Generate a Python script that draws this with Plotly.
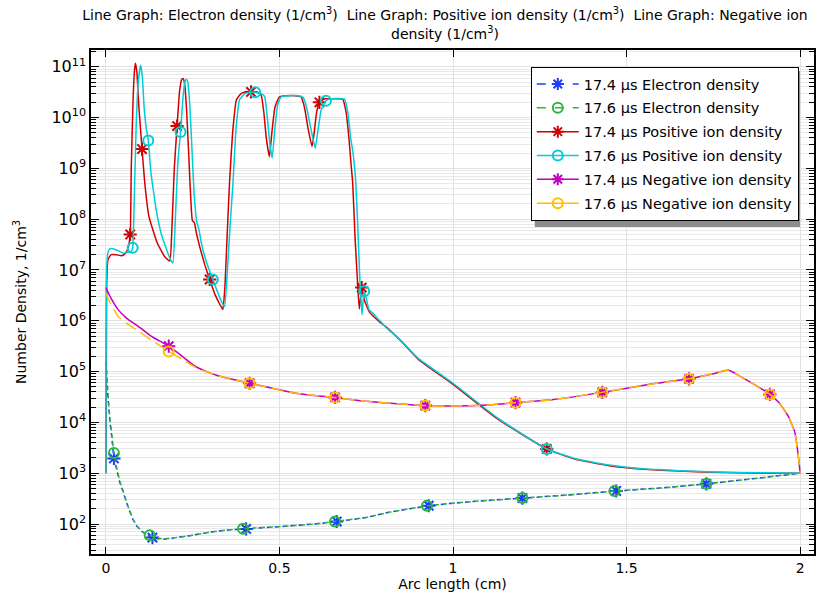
import plotly.graph_objects as go

# ---------------- data ----------------
pos174_x = [0, 0.002, 0.006, 0.015, 0.03, 0.045, 0.055, 0.063, 0.07, 0.073, 0.078, 0.082, 0.085, 0.089, 0.095,
            0.104, 0.112, 0.124, 0.148, 0.17, 0.184, 0.19, 0.197, 0.205, 0.212, 0.218, 0.222, 0.226, 0.232,
            0.238, 0.243, 0.249, 0.255, 0.26, 0.27, 0.285, 0.299, 0.315, 0.33, 0.337, 0.343, 0.35, 0.356,
            0.365, 0.376, 0.39, 0.404, 0.418, 0.435, 0.447, 0.455, 0.462, 0.471, 0.478, 0.487, 0.5, 0.52,
            0.545, 0.562, 0.572, 0.582, 0.594, 0.6, 0.607, 0.615, 0.63, 0.66, 0.682, 0.692, 0.7, 0.706,
            0.711, 0.718, 0.725, 0.73, 0.737, 0.745, 0.76, 0.775, 0.79, 0.807, 0.85, 0.9, 1.0, 1.13, 1.27,
            1.35, 1.45, 1.55, 1.65, 1.75, 1.9, 2.0]
pos174_y = [1.0e3, 5.0e6, 1.6e7, 2.0e7, 2.0e7, 1.9e7, 2.1e7, 2.6e7, 5.0e7, 1.0e9, 2.0e10, 8.0e10, 1.17e11, 8.0e10, 1.6e10,
            2.4e9, 5.1e8, 1.12e8, 3.4e7, 1.8e7, 1.5e7, 6.3e7, 1.0e9, 6.8e9, 3.2e10, 5.6e10, 5.9e10, 5.0e10, 1.6e10,
            2.3e9, 4.0e8, 9.5e7, 8.5e7, 5.6e7, 2.9e7, 1.26e7, 6.5e6, 3.2e6, 2.0e6, 1.66e6, 5.0e6, 6.3e7, 5.1e8,
            5.0e9, 2.24e10, 3.0e10, 3.2e10, 3.2e10, 3.16e10, 2.8e10, 1.26e10, 4.0e9, 1.7e9, 5.0e9, 1.6e10, 2.57e10, 2.7e10,
            2.7e10, 2.57e10, 1.6e10, 6.3e9, 2.7e9, 5.0e9, 1.26e10, 2.0e10, 2.34e10, 2.34e10, 2.3e10, 1.26e10, 4.0e9, 1.26e9,
            5.1e8, 4.0e7, 5.6e6, 1.7e6, 4.5e6, 2.5e6, 1.45e6, 1.15e6, 9.3e5, 7.6e5, 4.0e5, 1.74e5, 5.6e4, 1.15e4, 3.0e3,
            1.9e3, 1.41e3, 1.2e3, 1.1e3, 1.05e3, 1.0e3, 1.0e3]
pos174_mx = [0.07, 0.104, 0.205, 0.299, 0.418, 0.615, 0.737, 1.27]
pos174_my = [5.0e7, 2.4e9, 6.8e9, 6.5e6, 3.2e10, 2.0e10, 4.5e6, 3.0e3]

pos176_x = [0, 0.002, 0.006, 0.012, 0.02, 0.035, 0.05, 0.065, 0.072, 0.077, 0.082, 0.087, 0.093, 0.1, 0.105,
            0.11, 0.116, 0.122, 0.13, 0.138, 0.145, 0.16, 0.175, 0.186, 0.193, 0.2, 0.207, 0.215, 0.222, 0.228,
            0.232, 0.236, 0.242, 0.248, 0.254, 0.262, 0.268, 0.275, 0.29, 0.308, 0.325, 0.335, 0.342, 0.35,
            0.358, 0.366, 0.375, 0.385, 0.4, 0.415, 0.43, 0.445, 0.457, 0.465, 0.472, 0.479, 0.487, 0.495,
            0.505, 0.53, 0.555, 0.568, 0.578, 0.59, 0.603, 0.61, 0.62, 0.634, 0.65, 0.687, 0.697, 0.705,
            0.712, 0.72, 0.727, 0.732, 0.736, 0.738, 0.741, 0.744, 0.75, 0.758, 0.772, 0.785, 0.795, 0.807,
            0.85, 0.9, 1.0, 1.13, 1.27, 1.35, 1.45, 1.55, 1.65, 1.75, 1.9, 2.0]
pos176_y = [1.0e3, 1.0e7, 2.24e7, 2.63e7, 2.63e7, 2.4e7, 2.14e7, 2.24e7, 2.24e7, 2.75e7, 3.2e8, 6.3e9, 5.0e10, 1.07e11, 6.3e10,
            1.6e10, 6.3e9, 3.55e9, 7.9e8, 3.2e8, 1.5e8, 5.0e7, 2.5e7, 1.6e7, 1.38e7, 1.0e8, 1.26e9, 5.2e9, 2.5e10, 5.2e10,
            5.6e10, 5.0e10, 1.6e10, 2.3e9, 3.2e8, 8.5e7, 6.3e7, 3.4e7, 1.4e7, 6.5e6, 3.2e6, 2.24e6, 1.9e6, 1.0e7,
            7.9e7, 5.1e8, 6.3e9, 2.24e10, 2.95e10, 3.16e10, 3.16e10, 3.0e10, 2.63e10, 1.0e10, 3.2e9, 1.6e9, 6.3e9, 1.8e10,
            2.57e10, 2.7e10, 2.7e10, 2.5e10, 1.6e10, 6.3e9, 2.5e9, 5.0e9, 1.4e10, 2.14e10, 2.34e10, 2.3e10, 1.26e10, 4.0e9,
            2.0e9, 5.1e8, 4.0e7, 5.6e6, 2.0e6, 1.32e6, 2.5e6, 3.8e6, 2.8e6, 1.66e6, 1.35e6, 1.07e6, 9.1e5, 7.4e5,
            4.1e5, 1.82e5, 5.9e4, 1.2e4, 3.0e3, 1.95e3, 1.45e3, 1.22e3, 1.12e3, 1.06e3, 1.02e3, 1.0e3]
pos176_mx = [0.077, 0.122, 0.215, 0.308, 0.43, 0.634, 0.744, 1.27]
pos176_my = [2.75e7, 3.55e9, 5.2e9, 6.5e6, 3.16e10, 2.14e10, 3.8e6, 3.0e3]

ele174_x = [0, 0.005, 0.011, 0.017, 0.023, 0.031, 0.04, 0.05, 0.063, 0.078, 0.09, 0.103, 0.115, 0.134, 0.15, 0.165,
            0.2, 0.241, 0.3, 0.35, 0.404, 0.5, 0.6, 0.665, 0.75, 0.816, 0.93, 1.05, 1.2, 1.33, 1.47, 1.6, 1.73, 1.85, 2.0]
ele174_y = [1.6e5, 4.0e4, 1.15e4, 5.0e3, 1.95e3, 1.2e3, 660, 420, 224, 123, 89, 72, 63, 54, 51, 50,
            54, 59, 69, 76, 80, 89, 100, 112, 135, 170, 229, 275, 324, 372, 447, 513, 617, 760, 1000]
ele174_mx = [0.023, 0.134, 0.404, 0.665, 0.93, 1.2, 1.47, 1.73]
ele174_my = [1.95e3, 54, 80, 112, 229, 324, 447, 617]

ele176_x = [0, 0.005, 0.011, 0.017, 0.023, 0.031, 0.04, 0.05, 0.063, 0.078, 0.09, 0.103, 0.115, 0.126, 0.15, 0.165,
            0.2, 0.241, 0.3, 0.35, 0.395, 0.5, 0.6, 0.66, 0.75, 0.816, 0.925, 1.05, 1.2, 1.33, 1.465, 1.6, 1.73, 1.85, 2.0]
ele176_y = [1.8e5, 4.5e4, 1.3e4, 5.8e3, 2.5e3, 1.3e3, 700, 440, 230, 125, 91, 73, 64, 60, 53, 51,
            54, 59, 69, 76, 81, 89, 100, 112, 135, 170, 228, 275, 324, 372, 445, 513, 617, 760, 1000]
ele176_mx = [0.023, 0.126, 0.395, 0.66, 0.925, 1.2, 1.465, 1.73]
ele176_my = [2.5e3, 60, 81, 112, 228, 324, 445, 617]

neg174_x = [0, 0.01, 0.035, 0.06, 0.093, 0.13, 0.181, 0.22, 0.256, 0.29, 0.323, 0.37, 0.414, 0.48, 0.543, 0.6,
            0.66, 0.75, 0.85, 0.92, 1.0, 1.1, 1.18, 1.285, 1.43, 1.563, 1.68, 1.75, 1.793, 1.83, 1.87, 1.913,
            1.94, 1.966, 1.985, 1.996, 2.0]
neg174_y = [4.5e6, 3.2e6, 1.66e6, 1.12e6, 7.8e5, 5.0e5, 3.16e5, 2.0e5, 1.29e5, 1.0e5, 8.3e4, 6.9e4, 5.9e4, 4.7e4, 3.8e4, 3.4e4,
            3.1e4, 2.6e4, 2.3e4, 2.14e4, 2.1e4, 2.2e4, 2.45e4, 2.8e4, 3.9e4, 5.6e4, 7.2e4, 9.1e4, 1.07e5, 7.9e4, 5.5e4, 3.55e4,
            2.4e4, 1.32e4, 6.3e3, 1.86e3, 1.0e3]
neg174_mx = [0.181, 0.414, 0.66, 0.92, 1.18, 1.43, 1.68, 1.913]
neg174_my = [3.16e5, 5.9e4, 3.1e4, 2.14e4, 2.45e4, 3.9e4, 7.2e4, 3.55e4]

neg176_x = [0, 0.01, 0.035, 0.06, 0.093, 0.13, 0.181, 0.22, 0.256, 0.29, 0.323, 0.37, 0.414, 0.48, 0.543, 0.6,
            0.66, 0.75, 0.85, 0.92, 1.0, 1.1, 1.18, 1.285, 1.43, 1.563, 1.68, 1.75, 1.793, 1.83, 1.87, 1.913,
            1.94, 1.966, 1.985, 1.996, 2.0]
neg176_y = [3.5e6, 2.4e6, 1.23e6, 8.9e5, 6.3e5, 4.2e5, 2.5e5, 1.74e5, 1.23e5, 9.8e4, 8.3e4, 6.9e4, 5.9e4, 4.7e4, 3.8e4, 3.4e4,
            3.1e4, 2.6e4, 2.3e4, 2.14e4, 2.1e4, 2.2e4, 2.45e4, 2.8e4, 3.9e4, 5.6e4, 7.2e4, 9.1e4, 1.07e5, 7.9e4, 5.5e4, 3.55e4,
            2.4e4, 1.32e4, 6.3e3, 1.86e3, 1.0e3]
neg176_mx = [0.181, 0.414, 0.66, 0.92, 1.18, 1.43, 1.68, 1.913]
neg176_my = [2.5e5, 5.9e4, 3.1e4, 2.14e4, 2.45e4, 3.9e4, 7.2e4, 3.55e4]

legend_names = ["17.4 µs Electron density", "17.6 µs Electron density",
                "17.4 µs Positive ion density", "17.6 µs Positive ion density",
                "17.4 µs Negative ion density", "17.6 µs Negative ion density"]

x_tickvals = [0, 0.5, 1, 1.5, 2]
x_ticktext = ["0", "0.5", "1", "1.5", "2"]
y_exponents = list(range(2, 12))

# ---------------- styles ----------------
C_BLUE = "rgb(30,60,245)"
C_GREEN = "rgb(40,185,60)"
C_RED = "rgb(210,0,0)"
C_CYAN = "rgb(0,205,215)"
C_MAG = "rgb(195,0,195)"
C_ORANGE = "rgb(255,190,0)"

FONT = "DejaVu Sans"

fig = go.Figure()

def add_series(x, y, mx, my, color, dash, symbol, width=1.5):
    fig.add_trace(go.Scatter(x=x, y=y, mode="lines", showlegend=False, hoverinfo="skip",
                             line=dict(color=color, width=width, dash=dash, shape="spline", smoothing=0.4)))
    fig.add_trace(go.Scatter(x=mx, y=my, mode="markers", showlegend=False, hoverinfo="skip",
                             marker=dict(symbol=symbol, size=10 if "circle" in symbol else 11,
                                         color=color, line=dict(color=color, width=2))))

# drawing order
add_series(ele174_x, ele174_y, ele174_mx, ele174_my, C_BLUE, "4px,4px", "asterisk-open")
add_series(ele176_x, ele176_y, ele176_mx, ele176_my, C_GREEN, "0px,4px,4px,0px", "circle-open")
add_series(pos174_x, pos174_y, pos174_mx, pos174_my, C_RED, "solid", "asterisk-open")
add_series(pos176_x, pos176_y, pos176_mx, pos176_my, C_CYAN, "solid", "circle-open")
add_series(neg174_x, neg174_y, neg174_mx, neg174_my, C_MAG, "solid", "asterisk-open")
add_series(neg176_x, neg176_y, neg176_mx, neg176_my, C_ORANGE, "12px,6px", "circle-open")

# legend-only entries
leg_styles = [(C_BLUE, "dash", "asterisk-open"), (C_GREEN, "dash", "circle-open"),
              (C_RED, "solid", "asterisk-open"), (C_CYAN, "solid", "circle-open"),
              (C_MAG, "solid", "asterisk-open"), (C_ORANGE, "solid", "circle-open")]
for i, (name, (col, dsh, sym)) in enumerate(zip(legend_names, leg_styles)):
    fig.add_trace(go.Scatter(x=[None], y=[None], mode="lines+markers", name=name,
                             legendgroup="g%d" % i,
                             line=dict(color=col, width=1.5, dash=dsh),
                             marker=dict(symbol=sym, size=10, color=col, line=dict(color=col, width=2))))

# legend shadow
L, R, T, B = 91, 816, 50, 554
def px_x(p):
    return (p - L) / (R - L)
def px_y(p):
    return (B - p) / (B - T)

fig.add_shape(type="rect", xref="paper", yref="paper", layer="above",
              x0=px_x(536), x1=px_x(802), y0=px_y(227), y1=px_y(71),
              fillcolor="rgb(140,140,140)", line=dict(width=0))

grid_c = "rgb(225,225,225)"
fig.update_layout(
    width=821, height=598,
    margin=dict(l=L, r=821 - R, t=T, b=598 - B),
    paper_bgcolor="white", plot_bgcolor="white",
    font=dict(family=FONT, size=13, color="black"),
    title=dict(text="Line Graph: Electron density (1/cm<sup>3</sup>)  Line Graph: Positive ion density (1/cm<sup>3</sup>)  Line Graph: Negative ion<br>density (1/cm<sup>3</sup>)",
               x=445 / 821, xref="container", xanchor="center", y=0.966, yref="container", yanchor="top",
               font=dict(family=FONT, size=14, color="black")),
    legend=dict(x=px_x(532), y=px_y(67), xanchor="left", yanchor="top",
                bgcolor="white", bordercolor="black", borderwidth=1, itemwidth=42,
                font=dict(family=FONT, size=14.5, color="black"), tracegroupgap=2),
    showlegend=True,
)

fig.update_xaxes(range=[-0.043, 2.04], tickmode="array", tickvals=x_tickvals, ticktext=x_ticktext,
                 ticks="inside", ticklen=7, tickcolor="black", showline=True, linecolor="black", linewidth=1.5,
                 mirror="ticks", showgrid=True, gridcolor=grid_c, zeroline=False,
                 tickfont=dict(size=14), title=dict(text="Arc length (cm)", font=dict(size=14), standoff=4))

minor_vals = [k * 10 ** e for e in range(1, 12) for k in range(2, 10)]
fig.update_yaxes(type="log", range=[1.41, 11.33], tickmode="array",
                 tickvals=[10 ** e for e in y_exponents],
                 ticktext=["10<sup>%d</sup>" % e for e in y_exponents],
                 ticks="inside", ticklen=8, tickcolor="black", showline=True, linecolor="black", linewidth=1.5,
                 mirror="allticks", showgrid=True, gridcolor=grid_c, zeroline=False,
                 minor=dict(tickmode="array", tickvals=minor_vals, ticks="inside", ticklen=5,
                            tickcolor="black", showgrid=True, gridcolor="rgb(232,232,232)"),
                 tickfont=dict(size=16),
                 title=dict(text="Number Density, 1/cm<sup>3</sup>", font=dict(size=14), standoff=22))

fig.write_html("out.html", config={"displayModeBar": False},
               post_script="document.body.style.margin='0';")
